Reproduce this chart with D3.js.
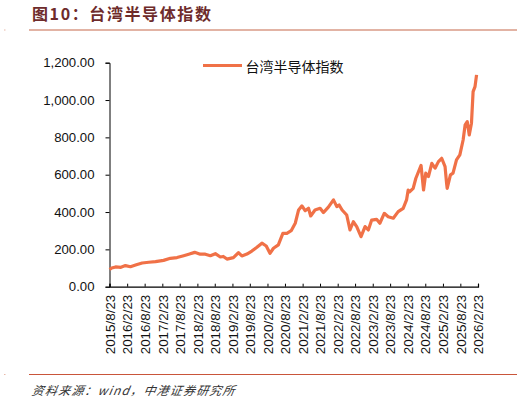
<!DOCTYPE html>
<html>
<head>
<meta charset="utf-8">
<script src="https://cdn.jsdelivr.net/npm/d3@7"></script>
<style>
  body { margin: 0; background: #fff; }
  svg { display: block; }
</style>
</head>
<body>
<svg id="canvas" width="526" height="403"></svg>
<script>
// index readings
let dates = [
  "2015-08-24","2015-09-15","2015-10-25","2015-12-20","2016-02-05","2016-03-28","2016-05-20","2016-07-28",
  "2016-10-05","2016-12-14","2017-03-08","2017-05-18","2017-07-26","2017-10-03","2017-11-25","2018-01-26",
  "2018-03-25","2018-05-17","2018-07-08","2018-08-29","2018-10-20","2018-11-20","2018-12-28","2019-03-05",
  "2019-04-27","2019-06-01","2019-07-24","2019-09-13","2019-11-05","2019-12-27","2020-02-10","2020-03-20",
  "2020-04-25","2020-06-15","2020-08-01","2020-09-12","2020-10-27","2020-12-08","2021-01-12","2021-02-16",
  "2021-03-21","2021-04-25","2021-05-18","2021-07-02","2021-08-24","2021-09-27","2021-11-18","2022-01-10",
  "2022-02-14","2022-03-10","2022-04-10","2022-05-28","2022-07-01","2022-08-05","2022-09-09","2022-10-24",
  "2022-12-05","2023-01-08","2023-02-12","2023-04-04","2023-05-08","2023-06-23","2023-08-03","2023-09-25",
  "2023-11-15","2024-01-06","2024-02-10","2024-02-27","2024-03-15","2024-04-19","2024-05-17","2024-07-10",
  "2024-08-05","2024-08-28","2024-09-25","2024-10-30","2024-12-03","2025-01-07","2025-02-10","2025-03-17",
  "2025-04-02","2025-04-08","2025-05-12","2025-06-08","2025-07-14","2025-08-18","2025-09-21","2025-10-12",
  "2025-11-03","2025-11-24","2025-12-17","2026-01-03","2026-01-23","2026-02-08"
];
let values = [
  92,100,106,104,113,107,116,127,
  131,134,141,152,156,166,174,184,
  174,174,166,177,159,162,148,156,
  182,165,175,191,211,233,218,179,
  206,224,286,286,300,340,411,433,
  407,420,379,411,420,397,426,465,
  429,438,411,384,304,348,322,268,
  322,304,357,361,340,393,375,367,
  402,420,465,518,509,527,581,650,
  518,608,590,661,635,670,688,643,
  554,527,599,608,679,706,786,867,
  884,813,876,1045,1072,1135
];
let tickLabels = [
  "2015/8/23","2016/2/23","2016/8/23","2017/2/23","2017/8/23","2018/2/23","2018/8/23",
  "2019/2/23","2019/8/23","2020/2/23","2020/8/23","2021/2/23","2021/8/23","2022/2/23",
  "2022/8/23","2023/2/23","2023/8/23","2024/2/23","2024/8/23","2025/2/23","2025/8/23","2026/2/23"
];
let yTicks = [0,200,400,600,800,1000,1200];
let seriesName = "台湾半导体指数";

let canvas = d3.select("#canvas");
let parse = d3.timeParse("%Y-%m-%d");
let parseTick = d3.timeParse("%Y/%m/%d");
let points = dates.map((d,i) => ({date: parse(d), value: values[i]}));
let tickDates = tickLabels.map(t => parseTick(t));

let plotLeft = 109.5, plotRight = 478, plotTop = 62.7, plotBottom = 286.7;
let xScale = d3.scaleTime()
               .domain([tickDates[0], tickDates[tickDates.length-1]])
               .range([plotLeft, plotRight]);
let yScale = d3.scaleLinear().domain([0,1200]).range([plotBottom, plotTop]);

// title + rules
canvas.append("text")
      .attr("x",32).attr("y",20)
      .attr("font-family","'Noto Sans CJK SC', sans-serif")
      .attr("font-weight","bold")
      .attr("font-size",16)
      .attr("letter-spacing",1.6)
      .attr("fill","#6e2b2b")
      .text("图10：台湾半导体指数");
canvas.append("line").attr("x1",29).attr("x2",517).attr("y1",30).attr("y2",30)
      .attr("stroke","#d99a86").attr("stroke-width",1.5);
canvas.append("rect").attr("x",4).attr("y",29.5).attr("width",1.5).attr("height",1).attr("fill","#e8b8a8");
canvas.append("line").attr("x1",29).attr("x2",517).attr("y1",374.5).attr("y2",374.5)
      .attr("stroke","#c9553a").attr("stroke-width",1.2);
canvas.append("rect").attr("x",4).attr("y",374).attr("width",1.5).attr("height",1).attr("fill","#e8b8a8");
canvas.append("text")
      .attr("x",32).attr("y",395)
      .attr("font-family","'Noto Sans CJK SC', sans-serif")
      .attr("font-style","italic")
      .attr("font-size",12)
      .attr("letter-spacing",1.2)
      .attr("fill","#333")
      .attr("transform","translate(69,0) skewX(-10)")
      .text("资料来源：wind，中港证券研究所");

// y axis
let yAxis = d3.axisLeft(yScale)
              .tickValues(yTicks)
              .tickSize(4)
              .tickFormat(d3.format(",.2f"));
let yG = canvas.append("g").attr("transform",`translate(${plotLeft},0)`).call(yAxis);
yG.selectAll("text")
  .attr("font-family","'Liberation Sans', Arial, sans-serif")
  .attr("font-size",13.2)
  .attr("fill","#111")
  .attr("x",-15);
yG.select(".domain").attr("stroke","#000");
yG.selectAll(".tick line").attr("stroke","#000");

// x axis
let xAxis = d3.axisBottom(xScale)
              .tickValues(tickDates)
              .tickSize(-3)
              .tickFormat((d,i) => tickLabels[i]);
let xG = canvas.append("g").attr("transform",`translate(0,${plotBottom})`).call(xAxis);
xG.select(".domain").attr("stroke","#000").attr("stroke-width",1.2);
xG.selectAll(".tick line").attr("stroke","#000");
xG.selectAll("text")
  .attr("font-family","'Liberation Sans', Arial, sans-serif")
  .attr("font-size",13.4)
  .attr("fill","#111")
  .attr("text-anchor","end")
  .attr("transform","translate(0,8) rotate(-90)")
  .attr("x",0).attr("y",0)
  .attr("dy","0.35em");

// the series
let line = d3.line().x(d => xScale(d.date)).y(d => yScale(d.value));
canvas.append("path")
      .datum(points)
      .attr("fill","none")
      .attr("stroke","#f07147")
      .attr("stroke-width",3.2)
      .attr("stroke-linejoin","round")
      .attr("d",line);

// legend
canvas.append("line").attr("x1",203).attr("x2",242).attr("y1",65.5).attr("y2",65.5)
      .attr("stroke","#f07147").attr("stroke-width",3.2);
canvas.append("text")
      .attr("x",245.5).attr("y",71.5)
      .attr("font-family","'Noto Sans CJK SC', sans-serif")
      .attr("font-size",14)
      .attr("fill","#111")
      .text(seriesName);
</script>
</body>
</html>
